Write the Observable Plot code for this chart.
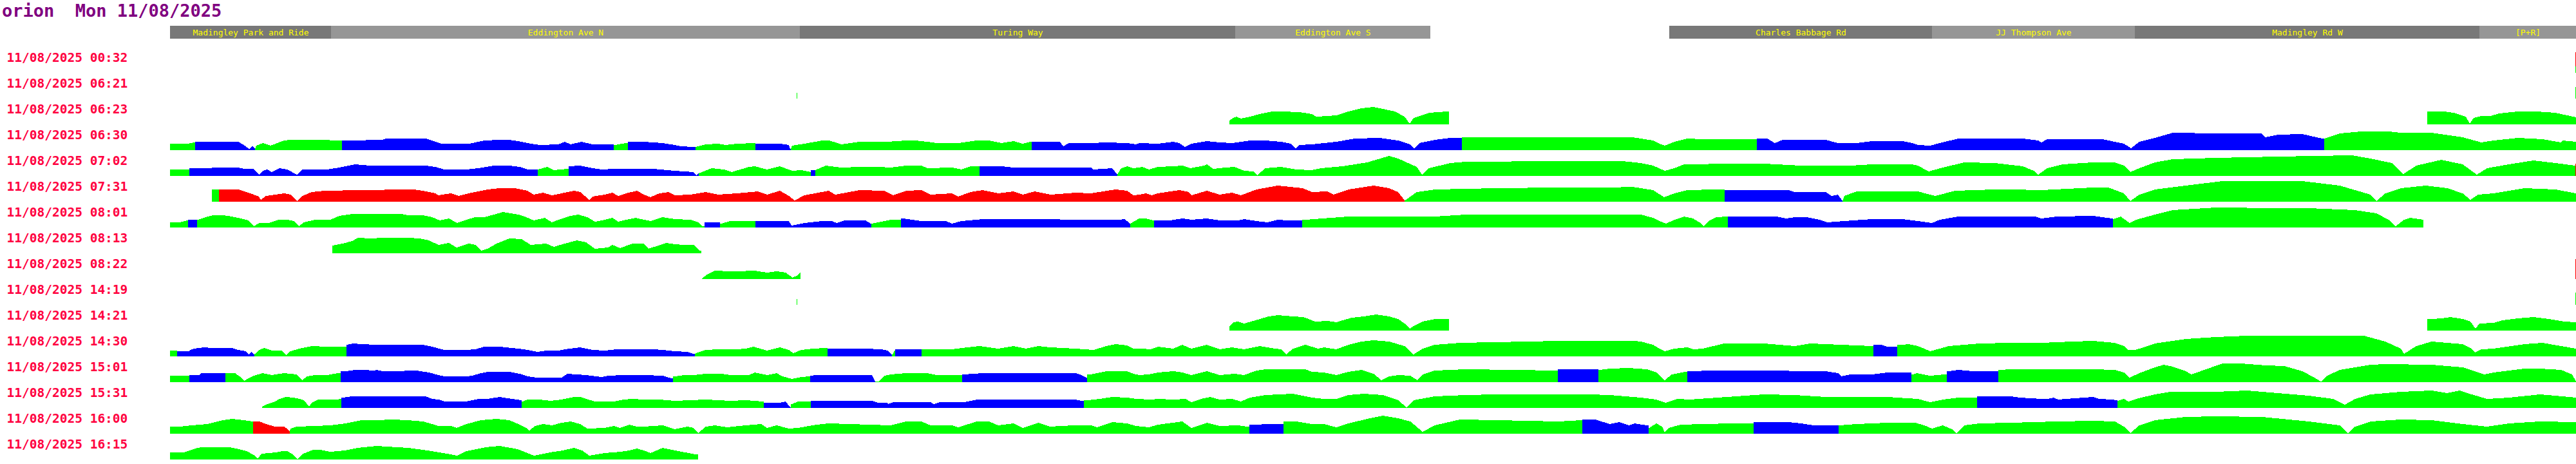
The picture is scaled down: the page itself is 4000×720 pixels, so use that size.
<!DOCTYPE html>
<html><head><meta charset="utf-8">
<script src="https://cdn.jsdelivr.net/npm/d3@7"></script>
<script src="https://cdn.jsdelivr.net/npm/@observablehq/plot@0.6"></script>
<style>
body{margin:0;background:#fff;}
#title{height:33px;font:bold 27px/33px "DejaVu Sans Mono",monospace;color:#800080;white-space:pre;padding-left:3px;}
</style></head><body>
<div id="title">orion  Mon 11/08/2025</div>
<div id="chart"></div>
<script>
// Route segments (position along route) and names
const roadNames = ["Madingley Park and Ride","Eddington Ave N","Turing Way","Eddington Ave S","","Charles Babbage Rd","JJ Thompson Ave","Madingley Rd W","[P+R]"];
const roadStarts = [0,250,978,1654,1957,2328,2736,3051,3586];
const routeEnd = 3736;

// Journeys (start times)
const rowTimes = ["11/08/2025 00:32","11/08/2025 06:21","11/08/2025 06:23","11/08/2025 06:30","11/08/2025 07:02","11/08/2025 07:31","11/08/2025 08:01","11/08/2025 08:13","11/08/2025 08:22","11/08/2025 14:19","11/08/2025 14:21","11/08/2025 14:30","11/08/2025 15:01","11/08/2025 15:31","11/08/2025 16:00","11/08/2025 16:15"];

// Each journey: runs of [status, pos, speed, pos, speed, ...]
const trip0032 = [["r",3735,32,3736,32],["g",3735,10,3736,10]];
const trip0621 = [["g",973,9,974,9],["g",3735,18,3736,18]];
const trip0623 = [
 ["g",1645,6,1651,10,1656,12,1663,9,1677,12,1692,16,1711,20,1725,20,1754,19,1773,16,1780,12,1797,13,1811,14,1830,20,1850,25,1869,27,1888,23,1902,20,1917,12,1925,1,1931,10,1955,18,1983,20,1986,20],
 ["g",3505,20,3531,20,3546,18,3565,12,3571,1,3577,10,3589,13,3603,13,3617,17,3646,20,3675,20,3704,18,3736,11]];
const trip0630 = [
 ["g",0,10,27,10,38,12,39,12],
 ["b",39,13,41,13,96,13,106,13,113,9,123,2,128,7,132,2],
 ["g",132,2,134,7,144,11,156,7,177,15,187,16,230,16,266,15,267,15],
 ["b",267,15,302,15,306,16,330,16,335,18,397,18,407,15,421,10,464,10,474,12,488,15,512,16,526,16,541,14,560,10,574,8,603,9,613,13,622,9,639,13,656,9,687,9,689,9],
 ["g",689,8,691,8,708,11,711,11],
 ["b",711,13,736,13,765,11,784,8,793,6,812,5,816,5],
 ["g",816,5,832,9,851,10,863,8,880,10,908,11,909,11],
 ["b",909,10,947,10,961,8,963,2,964,2],
 ["g",964,2,966,7,985,10,1013,15,1023,15,1037,11,1042,9,1071,13,1114,13,1143,15,1157,15,1176,13,1190,11,1224,11,1253,15,1272,15,1291,11,1310,14,1324,10,1336,13,1338,13],
 ["b",1338,13,1382,13,1387,6,1396,11,1430,11,1454,12,1486,11,1500,9,1505,11,1534,10,1558,13,1567,11,1576,5,1586,10,1610,14,1630,12,1649,11,1677,15,1701,15,1725,13,1740,10,1748,3,1754,8,1773,9,1811,13,1840,18,1878,19,1907,15,1926,9,1932,2,1940,11,1964,16,1988,19,2006,19],
 ["g",2006,20,2270,20,2284,18,2303,15,2315,9,2321,7,2336,13,2356,18,2380,17,2461,17,2464,17],
 ["b",2464,18,2480,18,2492,11,2504,16,2571,16,2590,11,2619,11,2643,14,2690,14,2705,11,2714,8,2733,7,2748,11,2777,18,2877,18,2901,15,2906,12,2915,17,3000,17,3015,14,3034,10,3045,3,3058,13,3082,19,3110,27,3177,26,3247,26,3254,20,3273,24,3311,25,3342,18,3345,18],
 ["g",3345,18,3369,26,3402,29,3445,29,3464,27,3512,27,3560,20,3589,12,3608,15,3646,19,3684,17,3713,12,3715,15,3736,13]];
const trip0702 = [
 ["g",0,10,27,10,29,10,30,10],
 ["b",30,12,31,12,63,12,67,13,106,13,115,11,130,11,138,2,144,8,151,10,158,6,170,12,182,10,197,2,206,10,244,10,263,13,287,18,311,16,397,16,412,14,426,10,460,10,479,12,503,16,527,16,543,14,555,10,571,10],
 ["g",571,10,586,14,596,9,617,11,619,11],
 ["b",619,15,637,16,656,12,670,10,689,11,750,11,784,8,813,6,817,1,821,4],
 ["g",821,4,841,12,860,10,872,6,899,14,908,15,927,10,947,15,966,8,980,9,995,6],
 ["b",995,9,1002,9],
 ["g",1002,9,1009,12,1018,16,1042,13,1071,14,1100,14,1119,13,1143,16,1167,16,1176,12,1214,13,1229,10,1243,15,1257,15],
 ["b",1257,15,1291,15,1310,13,1430,13,1434,10,1463,12,1471,2],
 ["g",1471,2,1477,12,1486,15,1496,12,1510,14,1520,10,1534,14,1558,15,1572,16,1584,12,1606,16,1610,18,1620,11,1639,13,1653,14,1668,8,1682,7,1688,1,1701,12,1725,14,1749,10,1773,9,1787,12,1821,15,1859,21,1893,31,1907,27,1936,14,1944,2,1955,12,1988,20,2012,22,2156,23,2255,23,2284,20,2303,16,2321,8,2336,12,2351,18,2427,19,2475,19,2533,16,2609,16,2643,18,2705,18,2714,16,2731,7,2753,13,2786,21,2834,20,2877,15,2894,8,2901,2,2915,12,2939,18,2986,21,3020,21,3034,16,3044,6,3058,12,3082,21,3110,26,3177,28,3273,30,3388,32,3417,27,3450,20,3468,3,3488,16,3527,25,3560,18,3582,2,3598,12,3632,18,3670,24,3704,20,3735,16],
 ["r",3735,19,3736,19]];
const trip0731 = [
 ["g",65,19,76,19],
 ["r",76,19,106,19,113,17,130,11,138,8,141,3,149,9,163,11,177,13,187,11,197,1,206,9,220,15,240,17,263,17,273,18,330,18,335,19,378,19,393,17,412,13,417,10,436,13,448,9,464,13,493,19,512,21,536,21,555,17,565,11,579,14,593,10,608,13,627,17,637,15,651,3,656,8,675,11,687,14,696,9,708,13,725,17,736,11,746,7,760,13,774,15,784,10,808,11,832,15,851,11,880,13,913,16,927,11,947,17,961,9,970,2,985,10,1023,17,1033,11,1071,18,1109,17,1123,10,1143,17,1167,18,1181,11,1214,13,1224,8,1243,15,1262,18,1286,13,1310,16,1324,11,1343,16,1367,11,1406,14,1430,13,1468,19,1486,17,1496,10,1505,11,1515,13,1524,10,1534,13,1567,18,1582,15,1586,10,1610,17,1630,11,1649,14,1663,10,1687,19,1720,25,1759,21,1773,15,1797,16,1807,11,1830,19,1869,25,1893,21,1907,15,1917,2],
 ["g",1917,2,1919,3,1936,15,1964,19,2060,21,2156,22,2236,22,2270,23,2284,21,2303,18,2320,7,2336,13,2356,18,2399,19,2414,19],
 ["b",2414,18,2513,18,2523,15,2571,15,2580,9,2590,11,2597,1],
 ["g",2597,1,2600,9,2619,16,2714,16,2733,11,2741,9,2772,17,2834,19,2858,19,2906,18,2986,22,3010,22,3034,13,3044,1,3058,11,3082,19,3130,25,3187,32,3311,32,3369,25,3417,11,3426,1,3440,13,3464,21,3503,25,3536,21,3560,13,3572,3,3584,11,3608,13,3656,21,3704,19,3736,13]];
const trip0801 = [
 ["g",0,8,15,8,27,11,28,11],
 ["b",28,12,42,12],
 ["g",42,12,43,12,55,16,67,19,82,19,96,17,110,14,122,11,130,2,139,7,153,7,168,12,182,12,192,10,200,2,208,8,225,12,249,12,263,18,283,21,359,21,369,19,393,19,407,16,419,11,433,14,446,7,460,12,474,16,488,16,503,20,517,24,541,20,553,16,565,11,582,15,593,8,603,12,622,18,634,20,648,16,660,9,675,12,687,15,696,9,708,12,723,15,736,12,746,10,765,16,784,13,808,12,820,8,827,2,830,2],
 ["b",830,8,851,8,854,8],
 ["g",854,6,856,6,870,10,908,10,909,10],
 ["b",909,10,961,10,965,3,985,7,1013,10,1028,10,1035,7,1047,11,1080,11,1088,6,1089,6],
 ["g",1089,6,1100,8,1119,12,1134,12,1135,12],
 ["b",1135,14,1138,14,1167,10,1205,10,1214,6,1229,10,1262,13,1358,13,1406,12,1473,12,1482,13,1486,10,1490,6,1491,6],
 ["g",1491,6,1505,14,1515,14,1527,11,1528,11],
 ["b",1528,11,1553,11,1572,14,1586,12,1610,14,1630,11,1658,11,1668,13,1687,10,1704,8,1720,12,1735,11,1758,11],
 ["g",1758,12,1763,12,1830,17,1917,17,1964,17,2012,20,2236,20,2284,20,2303,15,2313,10,2323,6,2336,12,2351,17,2365,14,2375,8,2381,2,2389,10,2401,16,2419,17],
 ["b",2419,17,2494,17,2509,14,2523,16,2542,16,2561,12,2573,8,2600,10,2643,13,2690,13,2714,10,2736,7,2748,12,2777,17,2896,17,2906,14,2930,17,2986,18,3000,16,3016,14,3017,14],
 ["g",3017,13,3029,17,3043,7,3053,12,3082,20,3110,27,3177,31,3273,30,3321,30,3393,27,3426,22,3445,12,3456,2,3469,12,3479,15,3499,12]];
const trip0813 = [
 ["g",252,12,268,15,283,19,292,24,311,23,330,24,369,24,388,23,402,20,417,13,433,16,445,9,464,15,474,13,483,4,493,7,507,15,527,23,546,22,560,13,584,15,596,10,613,15,632,20,646,17,660,7,680,9,687,13,699,8,718,15,736,15,743,7,755,11,770,16,784,14,798,13,813,13,822,4,825,4]];
const trip0822 = [
 ["g",826,1,834,7,846,13,870,12,880,12,908,13,927,10,942,12,956,10,963,5,966,2,973,5,978,10,979,10],
 ["r",3735,31,3736,31]];
const trip1419 = [["g",973,9,974,9],["g",3735,19,3736,19]];
const trip1421 = [
 ["g",1645,6,1651,13,1658,14,1668,11,1682,15,1706,22,1720,24,1744,22,1759,21,1768,18,1778,14,1797,15,1811,13,1821,16,1835,20,1854,22,1873,25,1893,22,1907,18,1917,11,1925,3,1931,7,1945,14,1964,18,1986,18],
 ["g",3505,18,3512,18,3527,19,3541,21,3560,18,3572,14,3580,3,3586,11,3608,12,3622,16,3646,19,3670,21,3694,18,3718,14,3736,13]];
const trip1430 = [
 ["g",0,9,11,9],
 ["b",11,8,12,8,29,8,34,11,43,13,55,14,63,13,96,13,106,10,118,8,122,3,126,7,130,3,131,3],
 ["g",131,4,132,4,139,10,146,13,158,9,173,9,180,2,187,8,201,12,220,16,244,15,273,15,274,15],
 ["b",274,18,285,20,297,19,321,18,345,18,393,18,407,15,426,10,460,10,474,11,488,15,512,15,541,12,555,10,570,7,584,9,603,9,613,11,637,14,656,10,675,9,694,11,736,11,750,11,765,10,784,8,803,7,813,4,815,4],
 ["g",815,4,816,5,832,10,851,11,880,11,894,12,906,15,927,9,947,14,961,10,968,5,980,10,999,12,1018,13,1021,13],
 ["b",1021,12,1080,12,1104,11,1114,9,1121,2],
 ["g",1121,2,1126,10],
 ["b",1126,11,1167,11],
 ["g",1167,11,1171,11,1214,11,1238,14,1257,16,1286,12,1310,16,1329,12,1348,16,1367,14,1406,12,1434,10,1454,16,1468,19,1486,17,1496,12,1510,12,1522,11,1534,15,1558,12,1572,18,1586,12,1610,18,1630,11,1649,14,1668,11,1692,16,1716,12,1725,11,1733,3,1744,12,1763,18,1783,12,1792,14,1811,11,1830,18,1850,23,1869,25,1893,23,1917,16,1931,3,1945,12,1964,18,2003,21,2108,23,2156,24,2274,24,2284,23,2303,18,2313,12,2321,8,2336,12,2356,14,2365,11,2380,12,2413,20,2475,20,2523,16,2547,20,2643,16,2645,16],
 ["b",2645,18,2657,18,2667,15,2682,15],
 ["g",2682,18,2690,18,2700,19,2714,16,2724,12,2733,8,2748,12,2762,16,2810,20,2858,21,2906,21,2954,23,2986,24,3020,21,3034,16,3041,10,3051,10,3058,12,3082,20,3130,27,3177,30,3225,32,3407,32,3440,23,3464,12,3469,4,3488,16,3512,23,3560,19,3574,12,3579,6,3589,11,3608,12,3656,19,3684,21,3736,12]];
const trip1501 = [
 ["g",0,10,29,10,30,10],
 ["b",30,11,46,11,48,14,67,14,84,14,86,14],
 ["g",86,14,101,14,108,9,115,2,122,6,130,10,144,14,158,11,177,14,197,12,205,3,213,9,225,11,244,11,261,14,265,14],
 ["b",265,17,273,17,287,19,302,19,316,18,321,19,330,17,359,17,369,18,383,18,402,15,417,11,426,9,460,9,469,10,483,14,493,16,527,16,543,13,555,9,570,7,608,7,617,13,646,11,670,8,680,10,704,11,736,11,765,10,774,7,780,6,781,6],
 ["g",781,9,784,9,798,11,813,11,832,13,856,13,870,11,899,11,908,15,927,11,942,14,951,9,966,5,980,8,994,9],
 ["b",994,10,1004,11,1090,11,1095,1],
 ["g",1095,1,1100,1,1109,10,1119,12,1143,14,1176,14,1190,11,1229,11,1230,11],
 ["b",1230,12,1233,12,1262,14,1406,14,1415,11,1423,7,1424,7],
 ["g",1424,12,1430,12,1454,17,1486,17,1496,13,1505,11,1520,12,1534,15,1558,17,1572,15,1586,11,1610,17,1630,11,1653,13,1668,11,1687,18,1701,20,1763,20,1773,16,1792,15,1811,11,1830,16,1850,19,1869,13,1881,3,1893,9,1907,11,1926,10,1937,3,1945,12,1964,18,2012,20,2084,19,2155,18],
 ["b",2155,20,2218,20],
 ["g",2218,19,2220,19,2236,21,2265,22,2293,20,2308,15,2321,3,2332,12,2353,16,2356,16],
 ["b",2356,17,2375,17,2380,18,2504,18,2523,17,2571,17,2590,14,2595,9,2609,12,2643,12,2667,15,2700,15,2704,15],
 ["g",2704,12,2707,12,2712,14,2733,10,2755,12,2759,12],
 ["b",2759,17,2762,17,2777,19,2800,17,2836,17,2839,17],
 ["g",2839,19,2841,19,2858,20,2986,20,3020,19,3034,15,3043,7,3058,14,3082,23,3096,27,3110,24,3130,17,3139,12,3153,17,3187,29,3216,29,3254,26,3283,25,3311,17,3330,7,3340,1,3350,10,3369,19,3417,27,3440,28,3512,27,3560,23,3593,12,3608,15,3656,21,3680,21,3713,19,3730,12,3736,1]];
const trip1531 = [
 ["g",143,2,151,6,163,10,170,14,180,17,192,16,201,14,208,12,216,2,220,8,230,13,259,13,265,14,266,14],
 ["b",266,16,268,16,283,18,302,18,316,18,397,18,407,14,417,13,426,10,460,10,469,12,479,14,493,14,512,17,531,14,546,12],
 ["g",546,10,548,10,555,13,574,13,591,11,608,13,627,17,637,17,646,14,660,10,689,10,704,13,718,14,736,13,760,13,784,11,832,13,870,11,894,12,920,10,922,10],
 ["b",922,8,947,8,956,10,963,1,964,1],
 ["g",964,6,966,6,975,10,994,10,995,10],
 ["b",995,11,1090,11,1100,8,1114,8,1115,6,1123,9,1181,9,1186,6,1195,9,1233,9,1253,13,1406,13,1415,11,1419,11],
 ["g",1419,12,1425,12,1444,14,1463,17,1486,16,1500,14,1524,13,1534,14,1558,13,1577,14,1586,9,1601,14,1615,17,1630,13,1649,14,1663,10,1677,16,1701,20,1744,22,1773,16,1792,14,1811,14,1830,20,1854,22,1883,20,1907,12,1920,1,1931,12,1964,18,2012,20,2060,21,2204,21,2236,20,2284,16,2308,13,2322,8,2341,14,2360,13,2403,16,2475,21,2523,20,2571,17,2667,17,2714,14,2733,9,2753,13,2777,16,2805,16,2806,16],
 ["b",2806,18,2858,18,2872,16,2906,14,2915,14,2925,16,2932,13,2944,14,2986,17,2996,14,3015,13,3023,12,3024,12],
 ["g",3024,11,3034,14,3041,10,3053,14,3082,21,3106,25,3177,25,3225,27,3273,23,3321,19,3359,14,3377,5,3393,14,3417,21,3464,25,3512,27,3536,23,3555,27,3574,21,3598,14,3632,16,3680,21,3704,19,3736,16]];
const trip1600 = [
 ["g",0,11,15,11,34,13,58,15,82,21,96,23,115,21,128,19,129,19],
 ["r",129,19,139,19,149,15,163,11,177,11,182,8,186,3],
 ["g",186,3,187,8,197,11,225,12,249,13,273,16,297,21,321,21,345,22,369,21,393,19,407,15,417,12,436,12,445,9,460,15,483,21,507,23,527,21,541,15,553,9,558,5,567,12,579,15,593,13,608,17,622,19,637,15,648,8,675,9,689,12,699,9,713,14,725,11,736,11,765,13,784,7,803,11,813,9,820,1,832,11,846,13,865,10,894,13,918,15,927,9,942,13,961,8,975,9,1004,14,1023,16,1119,13,1143,19,1167,19,1181,13,1214,13,1224,10,1253,19,1272,19,1286,13,1310,16,1324,9,1348,17,1367,11,1382,12,1406,13,1430,13,1439,10,1463,18,1486,16,1500,12,1520,10,1534,14,1572,19,1586,9,1610,17,1630,12,1658,13,1673,11,1676,11],
 ["b",1676,14,1692,14,1697,15,1728,15,1729,15],
 ["g",1729,19,1749,19,1773,15,1792,15,1811,10,1830,16,1859,23,1883,28,1907,24,1926,19,1945,3,1964,13,2003,22,2060,21,2156,19,2192,21,2193,21],
 ["b",2193,22,2213,22,2236,15,2250,18,2265,13,2274,16,2293,13,2296,13],
 ["g",2296,9,2297,9,2308,16,2317,11,2321,2,2327,9,2346,14,2380,15,2427,16,2456,16,2459,16],
 ["b",2459,18,2513,18,2533,16,2552,13,2590,13,2591,13],
 ["g",2591,13,2592,13,2619,15,2667,17,2710,17,2724,13,2736,8,2753,13,2767,7,2774,1,2786,13,2810,16,2858,17,2930,19,2986,20,3020,19,3034,11,3044,1,3058,13,3082,21,3130,26,3177,27,3249,26,3321,19,3369,13,3382,1,3393,11,3417,19,3464,22,3512,21,3560,15,3598,11,3632,16,3680,19,3736,18]];
const trip1615 = [
 ["g",0,11,21,11,31,14,42,18,50,19,92,19,103,17,119,13,130,7,136,1,142,9,153,10,165,11,174,13,182,13,189,9,198,1,207,9,222,15,233,15,249,12,272,14,291,18,321,21,336,20,370,18,400,14,430,9,446,6,460,13,490,19,512,21,540,16,555,10,565,6,590,11,610,14,627,18,640,14,651,6,675,10,700,12,713,14,725,17,736,14,746,10,765,18,784,14,800,11,815,8,820,8]];

const trips = [trip0032,trip0621,trip0623,trip0630,trip0702,trip0731,trip0801,trip0813,trip0822,trip1419,trip1421,trip1430,trip1501,trip1531,trip1600,trip1615];

// Build tables for the library
const table = [];
trips.forEach((runs, i) => runs.forEach((run, j) => {
  const [c, ...v] = run;
  for (let k = 0; k < v.length; k += 2) table.push({row: rowTimes[i], run: i + "-" + j, c, d: v[k], h: v[k + 1]});
}));

const roads = [];
let shadeIdx = 0;
roadNames.forEach((name, i) => {
  const start = roadStarts[i], end = i + 1 < roadStarts.length ? roadStarts[i + 1] : routeEnd;
  if (!name) { shadeIdx = 0; return; }
  roads.push({name, start, end, dark: shadeIdx % 2 === 0});
  shadeIdx++;
});

const mono = "DejaVu Sans Mono, monospace";
const chart = Plot.plot({
  width: 4000, height: 687,
  marginLeft: 264, marginRight: 0, marginTop: 0, marginBottom: 7,
  x: {domain: [0, routeEnd], axis: null},
  y: {domain: [0, 40], axis: null},
  fy: {domain: ["hdr", ...rowTimes], padding: 0, axis: null},
  color: {domain: ["g", "b", "r"], range: ["#00ff00", "#0000ff", "#ff0000"]},
  style: {background: "#fff"},
  marks: [
    Plot.rect(roads.filter(r => r.dark), {x1: "start", x2: "end", y1: 13, y2: 33, fy: () => "hdr", fill: "#787878"}),
    Plot.rect(roads.filter(r => !r.dark), {x1: "start", x2: "end", y1: 13, y2: 33, fy: () => "hdr", fill: "#969696"}),
    Plot.text(roads, {x: r => (r.start + r.end) / 2, y: 23, fy: () => "hdr", text: "name", fill: "#ffff00", fontSize: 13, fontFamily: mono}),
    Plot.areaY(table, {x: "d", y1: 0, y2: "h", z: "run", fy: "row", fill: "c", curve: "linear", shapeRendering: "crispEdges"}),
    Plot.text(rowTimes, {fy: d => d, text: d => d, frameAnchor: "left", dx: -254, y: 18, lineAnchor: "bottom", textAnchor: "start", fill: "#ff0040", fontSize: 19.5, fontWeight: "bold", fontFamily: mono})
  ]
});
document.getElementById("chart").appendChild(chart);
</script></body></html>
